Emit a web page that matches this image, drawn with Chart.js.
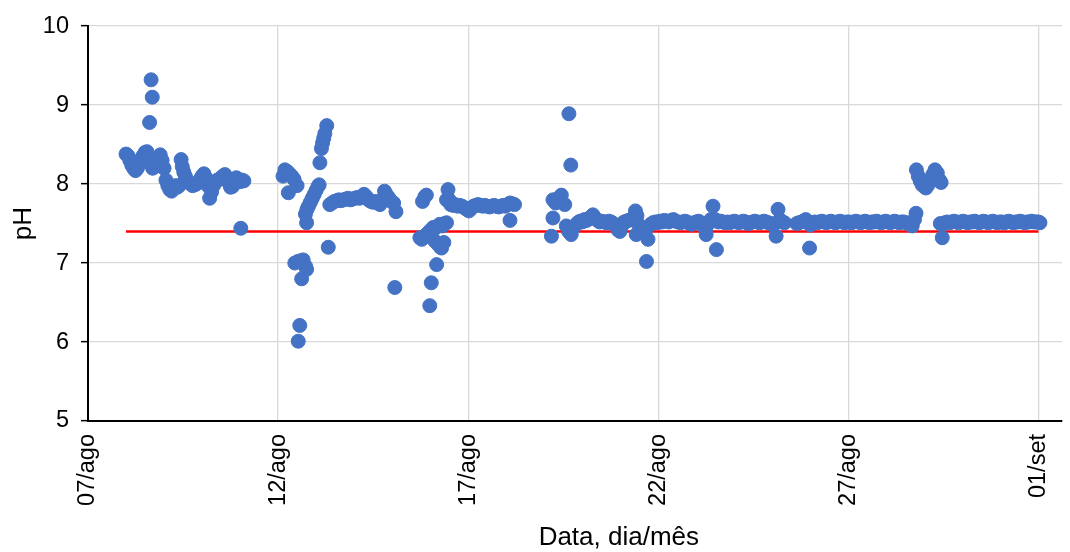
<!DOCTYPE html>
<html>
<head>
<meta charset="utf-8">
<script src="https://cdn.jsdelivr.net/npm/chart.js@4.4.1/dist/chart.umd.min.js"></script>
<style>
  html, body { margin: 0; padding: 0; background: #ffffff; }
  #wrap { width: 1070px; height: 552px; }
</style>
</head>
<body>
<div id="wrap"><canvas id="ph" width="1070" height="552"></canvas></div>
<script>
// Days counted from 07/ago 00:00; each pair is [day, pH]
const period1 = [
  [1.00,8.38],[1.05,8.36],[1.10,8.30],[1.15,8.24],[1.20,8.20],[1.25,8.17],[1.30,8.20],[1.35,8.26],
  [1.40,8.32],[1.45,8.36],[1.50,8.40],[1.55,8.41],[1.60,8.33],[1.62,8.78],[1.66,9.32],[1.69,9.10],
  [1.65,8.26],[1.70,8.20],[1.75,8.22],[1.80,8.28],[1.85,8.33],[1.90,8.37],[1.95,8.30],[2.00,8.20],
  [2.05,8.05],[2.10,7.98],[2.15,7.93],[2.20,7.91],[2.25,7.95],[2.30,7.98],[2.35,7.96],[2.40,7.98],
  [2.45,8.31],[2.48,8.22],[2.52,8.15],[2.56,8.10],[2.60,8.05],[2.65,8.02],[2.70,8.00],[2.75,7.98],
  [2.80,7.99],[2.85,8.00],[2.90,8.02],[2.95,8.06],[3.00,8.10],[3.05,8.13],[3.10,8.08],[3.15,7.98],
  [3.20,7.82],[3.25,7.90],[3.30,7.98],[3.35,8.02],[3.40,8.05],[3.45,8.06],[3.50,8.08],[3.55,8.10],
  [3.60,8.12],[3.65,8.08],[3.70,8.02],[3.75,7.96],[3.80,7.97],[3.85,8.02],[3.90,8.08],[3.95,8.06],
  [4.00,8.03],[4.05,8.05],[4.10,8.04],[4.02,7.44]
];
const period2 = [
  [5.13,8.10],[5.18,8.18],[5.24,8.16],[5.30,8.13],[5.36,8.10],[5.42,8.06],[5.50,7.98],[5.27,7.89],
  [5.44,7.00],[5.52,7.02],[5.60,7.03],[5.66,7.04],[5.72,6.96],[5.75,6.92],[5.62,6.80],[5.57,6.21],
  [5.53,6.01],[5.75,7.51],[5.72,7.62],[5.76,7.68],[5.80,7.72],[5.85,7.77],[5.90,7.82],[5.95,7.87],
  [6.00,7.92],[6.05,7.97],[6.08,7.99],[6.10,8.27],[6.14,8.45],[6.17,8.52],[6.20,8.58],[6.23,8.64],
  [6.28,8.74],[6.32,7.20],[6.36,7.74],[6.42,7.76],[6.48,7.78],[6.54,7.79],[6.60,7.80],[6.66,7.79],
  [6.72,7.80],[6.78,7.81],[6.84,7.82],[6.90,7.80],[6.96,7.81],[7.02,7.82],[7.08,7.83],[7.14,7.82],
  [7.20,7.84],[7.26,7.87],[7.32,7.84],[7.38,7.80],[7.44,7.78],[7.50,7.77],[7.56,7.78],[7.62,7.76],
  [7.68,7.74],[7.74,7.80],[7.80,7.91],[7.86,7.86],[7.92,7.82],[7.98,7.78],[8.04,7.76],[8.10,7.65],
  [8.07,6.69]
];
const period3 = [
  [8.80,7.78],[8.86,7.84],[8.90,7.86],[8.73,7.32],[8.78,7.30],[8.85,7.34],[8.92,7.37],[8.98,7.40],
  [9.03,7.42],[9.08,7.45],[9.13,7.44],[9.18,7.46],[9.25,7.49],[9.32,7.47],[9.38,7.50],[9.43,7.51],
  [9.12,7.28],[9.20,7.24],[9.27,7.20],[9.30,7.19],[9.36,7.26],[9.17,6.98],[9.03,6.75],[8.99,6.46],
  [9.43,7.80],[9.47,7.93],[9.50,7.80],[9.54,7.74],[9.60,7.73],[9.66,7.74],[9.72,7.72],[9.78,7.73],
  [9.84,7.72],[9.90,7.70],[9.96,7.68],[10.02,7.66],[10.08,7.69],[10.14,7.72],[10.20,7.73],[10.26,7.74],
  [10.32,7.73],[10.38,7.72],[10.44,7.73],[10.50,7.72],[10.56,7.71],[10.62,7.72],[10.68,7.73],[10.74,7.72],
  [10.80,7.71],[10.86,7.72],[10.92,7.73],[10.98,7.72],[11.04,7.74],[11.10,7.76],[11.16,7.75],[11.22,7.74],
  [11.10,7.54]
];
const period4 = [
  [12.19,7.34],[12.23,7.57],[12.23,7.80],[12.30,7.76],[12.38,7.82],[12.45,7.86],[12.54,7.74],[12.58,7.47],
  [12.65,8.89],[12.70,8.24],[12.71,7.36],[12.64,7.40],[12.76,7.44],[12.82,7.48],[12.88,7.51],[12.94,7.53],
  [13.00,7.52],[13.06,7.55],[13.12,7.54],[13.18,7.56],[13.24,7.59],[13.28,7.61],[13.34,7.57],[13.40,7.54],
  [13.46,7.52],[13.52,7.53],[13.58,7.52],[13.64,7.51],[13.70,7.53],[13.76,7.52],[13.82,7.50],[13.88,7.47],
  [13.94,7.42],[13.99,7.40],[14.05,7.48],[14.10,7.52],[14.16,7.53],[14.22,7.54],[14.28,7.55],[14.34,7.57],
  [14.40,7.66],[14.44,7.60],[14.42,7.36],[14.48,7.49],[14.54,7.45],[14.60,7.43],[14.66,7.40],[14.69,7.02],
  [14.73,7.30],[14.80,7.49],[14.86,7.51],[14.92,7.52],[14.98,7.51],[15.04,7.53],[15.10,7.52],[15.16,7.54],
  [15.22,7.53],[15.28,7.52],[15.34,7.54],[15.40,7.55],[15.46,7.53],[15.52,7.52],[15.58,7.51],[15.64,7.52],
  [15.70,7.53],[15.76,7.52],[15.82,7.50],[15.88,7.49],[15.94,7.51],[16.00,7.52],[16.06,7.53],[16.12,7.51],
  [16.18,7.48],[16.24,7.43],[16.26,7.36],[16.32,7.50],[16.38,7.55],[16.44,7.72],[16.50,7.55],[16.53,7.17],
  [16.58,7.52],[16.64,7.53],[16.70,7.52],[16.76,7.51],[16.82,7.52],[16.88,7.51],[16.94,7.52],[17.00,7.53],
  [17.06,7.52],[17.12,7.51],[17.18,7.52],[17.24,7.53],[17.30,7.52],[17.36,7.50],[17.42,7.51],[17.48,7.52],
  [17.54,7.53],[17.60,7.52],[17.66,7.51],[17.72,7.52],[17.78,7.53],[17.84,7.52],[17.90,7.51],[17.96,7.50],
  [18.02,7.48],[18.10,7.34],[18.15,7.68],[18.20,7.55],[18.26,7.52],[18.32,7.51]
];
const period5 = [
  [18.64,7.50],[18.70,7.51],[18.76,7.52],[18.82,7.53],[18.88,7.55],[18.94,7.52],[18.98,7.19],[19.00,7.48],
  [19.06,7.51],[19.12,7.52],[19.18,7.51],[19.24,7.52],[19.30,7.53],[19.36,7.52],[19.42,7.51],[19.48,7.52],
  [19.54,7.53],[19.60,7.52],[19.66,7.51],[19.72,7.52],[19.78,7.53],[19.84,7.52],[19.90,7.51],[19.96,7.52],
  [20.02,7.52],[20.08,7.51],[20.14,7.52],[20.20,7.53],[20.26,7.52],[20.32,7.51],[20.38,7.52],[20.44,7.53],
  [20.50,7.52],[20.56,7.51],[20.62,7.52],[20.68,7.52],[20.74,7.53],[20.80,7.52],[20.86,7.51],[20.92,7.52],
  [20.98,7.53],[21.04,7.52],[21.10,7.51],[21.16,7.52],[21.22,7.53],[21.28,7.52],[21.34,7.51],[21.40,7.52],
  [21.46,7.52],[21.52,7.51],[21.58,7.50],[21.64,7.48],[21.68,7.47],[21.74,7.55],[21.78,7.63],
  [21.79,8.18],[21.84,8.10],[21.89,8.04],[21.94,7.99],[21.99,7.97],[22.04,7.95],[22.10,7.99],[22.16,8.05],
  [22.22,8.12],[22.28,8.18],[22.34,8.14],[22.40,8.05],[22.44,8.02]
];
const period6 = [
  [22.42,7.50],[22.47,7.32],[22.48,7.49],[22.54,7.51],[22.60,7.52],[22.66,7.51],[22.72,7.52],[22.78,7.53],
  [22.84,7.52],[22.90,7.51],[22.96,7.52],[23.02,7.53],[23.08,7.52],[23.14,7.51],[23.20,7.52],[23.26,7.52],
  [23.32,7.53],[23.38,7.52],[23.44,7.51],[23.50,7.52],[23.56,7.53],[23.62,7.52],[23.68,7.51],[23.74,7.52],
  [23.80,7.53],[23.86,7.52],[23.92,7.51],[23.98,7.52],[24.04,7.52],[24.10,7.51],[24.16,7.52],[24.22,7.53],
  [24.28,7.52],[24.34,7.51],[24.40,7.52],[24.46,7.52],[24.52,7.53],[24.58,7.52],[24.64,7.51],[24.70,7.52],
  [24.76,7.52],[24.82,7.53],[24.88,7.52],[24.94,7.52],[25.00,7.52],[25.04,7.51]
];

// Reference pH limit line
const limitDays = [1, 25];
const limitPH = [7.4, 7.4];

// Axis ticks
const tickDays = [0, 5, 10, 15, 20, 25];
const tickLabels = ['07/ago', '12/ago', '17/ago', '22/ago', '27/ago', '01/set'];
const phTicks = [5, 6, 7, 8, 9, 10];
const xTitle = 'Data, dia/mês';
const yTitle = 'pH';

const readings = [period1, period2, period3, period4, period5, period6]
  .flat()
  .map(([d, v]) => ({ x: d, y: v }));
const limitLine = limitDays.map((d, i) => ({ x: d, y: limitPH[i] }));

const FONT = '"Liberation Sans", Arial, sans-serif';
const TICK_SIZE = 23.5;
const TITLE_SIZE = 26;

// Horizontal axis title, placed under the date labels
const xTitlePlugin = {
  id: 'xTitle',
  afterDraw(chart) {
    const { ctx, chartArea } = chart;
    ctx.save();
    ctx.font = TITLE_SIZE + 'px ' + FONT;
    ctx.fillStyle = '#000';
    ctx.textAlign = 'center';
    ctx.textBaseline = 'middle';
    const cx = chartArea.left + (chartArea.right - chartArea.left) * 0.545;
    ctx.fillText(xTitle, cx, chart.height - 14);
    ctx.restore();
  }
};

new Chart(document.getElementById('ph'), {
  type: 'scatter',
  data: {
    datasets: [
      {
        label: 'pH',
        data: readings,
        pointRadius: 7,
        pointHoverRadius: 7,
        pointBackgroundColor: '#4472C4',
        pointBorderColor: '#4472C4',
        pointBorderWidth: 1,
        showLine: false,
        order: 1
      },
      {
        label: 'limite',
        type: 'line',
        data: limitLine,
        borderColor: '#FF0000',
        borderWidth: 2.5,
        pointRadius: 0,
        fill: false,
        order: 2
      }
    ]
  },
  options: {
    responsive: false,
    animation: false,
    events: [],
    layout: { padding: { top: 24, right: 2, left: 0, bottom: 0 } },
    plugins: { legend: { display: false }, tooltip: { enabled: false } },
    scales: {
      x: {
        type: 'linear',
        min: 0,
        max: 25.62,
        afterFit(scale) {
          scale.height = 131;
          scale.paddingRight = 0;
          scale.paddingLeft = 0;
        },
        afterBuildTicks(scale) { scale.ticks = tickDays.map(v => ({ value: v })); },
        ticks: {
          callback: (v) => tickLabels[tickDays.indexOf(v)],
          minRotation: 90,
          maxRotation: 90,
          autoSkip: false,
          padding: 13,
          color: '#000',
          font: { family: FONT, size: TICK_SIZE }
        },
        grid: { color: '#d9d9d9', lineWidth: 1.3, drawTicks: false },
        border: { color: '#000', width: 2 }
      },
      y: {
        min: 5,
        max: 10,
        afterFit(scale) { scale.width = 88; },
        afterBuildTicks(scale) { scale.ticks = phTicks.map(v => ({ value: v })); },
        ticks: {
          padding: 12,
          color: '#000',
          font: { family: FONT, size: TICK_SIZE }
        },
        grid: { color: '#d9d9d9', lineWidth: 1.3, tickLength: 7, tickColor: '#000', tickWidth: 1.5 },
        border: { color: '#000', width: 2 },
        title: {
          display: true,
          text: yTitle,
          color: '#000',
          font: { family: FONT, size: TITLE_SIZE },
          padding: { top: 8, bottom: 0 }
        }
      }
    }
  },
  plugins: [xTitlePlugin]
});
</script>
</body>
</html>
